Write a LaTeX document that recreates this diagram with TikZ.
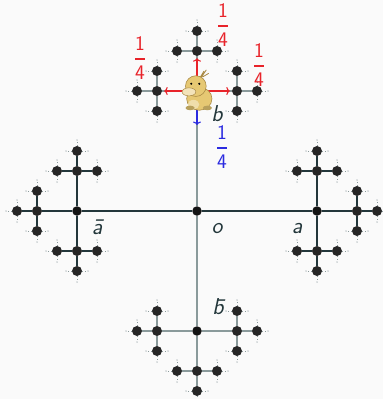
\documentclass[tikz,border=0pt]{standalone}
\usetikzlibrary{arrows.meta}
\definecolor{ink}{HTML}{23373B}
\definecolor{slate}{HTML}{8A9A9B}
\definecolor{bg}{HTML}{FAFAFA}
\definecolor{hot}{HTML}{E8232A}
\definecolor{cold}{HTML}{2B2BE0}
\definecolor{duck}{HTML}{E6C873}
\definecolor{duckline}{HTML}{A98A45}

% children of a vertex, keyed by the last letter (no backtracking)
\def\kidsa{a/1/0,b/0/-1,B/0/1}
\def\kidsA{A/-1/0,b/0/-1,B/0/1}
\def\kidsb{b/0/-1,a/1/0,A/-1/0}
\def\kidsB{B/0/1,a/1/0,A/-1/0}

% a quarter, with a heavy bar
\newcommand{\quarter}{$\displaystyle{\mathsf{1}\above1.8pt\mathsf{4}}$}

\tikzset{
  dot/.style={circle,fill=black!92,inner sep=0pt,minimum size=9.5pt},
  knot/.style={circle,fill=black!85,inner sep=0pt,minimum size=10pt},
  tip/.style={circle,fill=slate,inner sep=0pt,minimum size=1.4pt},
  edge a/.style={draw=ink,line width=1.2pt},
  edge A/.style={draw=ink,line width=1.2pt},
  edge b/.style={draw=slate,line width=1.2pt},
  edge B/.style={draw=slate,line width=1.2pt},
  twig/.style={draw=slate,dotted,line width=0.9pt},
  move/.style={-{To[length=3.5pt,width=8pt]},line width=1.1pt,shorten >=2pt},
  lbl/.style={text=ink,font=\fontsize{23}{25}\selectfont\sffamily\itshape},
  prob/.style={inner sep=0pt,font=\fontsize{20}{22}\selectfont},
}

\begin{document}
\begin{tikzpicture}[x=1pt,y=-1pt]
  \fill[bg] (0,0) rectangle (383,399);
  \useasboundingbox (0,0) rectangle (383,399);

  \node[dot] (o) at (197,211) {};

  \foreach \g/\gx/\gy in {a/1/0,A/-1/0,b/0/-1,B/0/1} {
    \node[dot] (\g) at ([shift={(\gx*120,\gy*120)}]o) {};
    \draw[edge \g] (o) -- (\g);
    \edef\kidsg{\csname kids\g\endcsname}
    \foreach \h/\hx/\hy in \kidsg {
      \node[knot] (\g\h) at ([shift={(\hx*40,\hy*40)}]\g) {};
      \draw[edge \g] (\g) -- (\g\h);
      \edef\kidsh{\csname kids\h\endcsname}
      \foreach \k/\kx/\ky in \kidsh {
        \node[knot] (\g\h\k) at ([shift={(\kx*20,\ky*20)}]\g\h) {};
        \draw[edge \g] (\g\h) -- (\g\h\k);
        \edef\kidsk{\csname kids\k\endcsname}
        \foreach \m/\mx/\my in \kidsk
          \draw[twig] (\g\h\k) -- ++(\mx*11,\my*11) node[tip] (\g\h\k\m) {};
      }
    }
  }

  % labels
  \node[lbl] (lo) at (217,229) {o};
  \node[lbl] (la) at (297,229) {a};
  \node[lbl] (lA) at (97,227) {\=a};
  \node[lbl] (lb) at (217,114) {b};
  \node[lbl] (lB) at (218,307) {\=b};

  % one step of the walk
  \coordinate (bdown) at ([shift={(0,34)}]b);
  \draw[move,hot] (b) -- (ba);
  \draw[move,hot] (b) -- (bA);
  \draw[move,hot] (b) -- (bb);
  \draw[move,cold,shorten >=0pt] (b) -- (bdown);

  \node[prob,text=hot] (pa) at (259,65) {\quarter};
  \node[prob,text=hot] (pA) at (140,58) {\quarter};
  \node[prob,text=hot] (pb) at (223,25) {\quarter};
  \node[prob,text=cold] (pB) at (222,147) {\quarter};

  % the walker
  \begin{scope}[shift={(197,93)},scale=1.15]
    \draw[duckline,line width=0.8pt,line cap=round] (3,-14) -- (6,-19) (5,-14) -- (10,-17) (4,-14) -- (8,-20);
    \fill[duck,draw=duckline,line width=0.6pt] (2,5) ellipse (11 and 10);
    \fill[duck,draw=duckline,line width=0.6pt] (-1,-6) circle (9);
    \fill[duck!50!white,draw=duckline,line width=0.5pt] (-7,-1) ellipse (6 and 3.5);
    \fill[duck!60!white] (-3,10) ellipse (5 and 4);
    \fill[black] (-5,-8) circle (1) (2,-8) circle (1);
    \fill[duck!80!black] (-6,13) ellipse (4 and 2) (9,13) ellipse (4 and 2);
  \end{scope}
\end{tikzpicture}
\end{document}
